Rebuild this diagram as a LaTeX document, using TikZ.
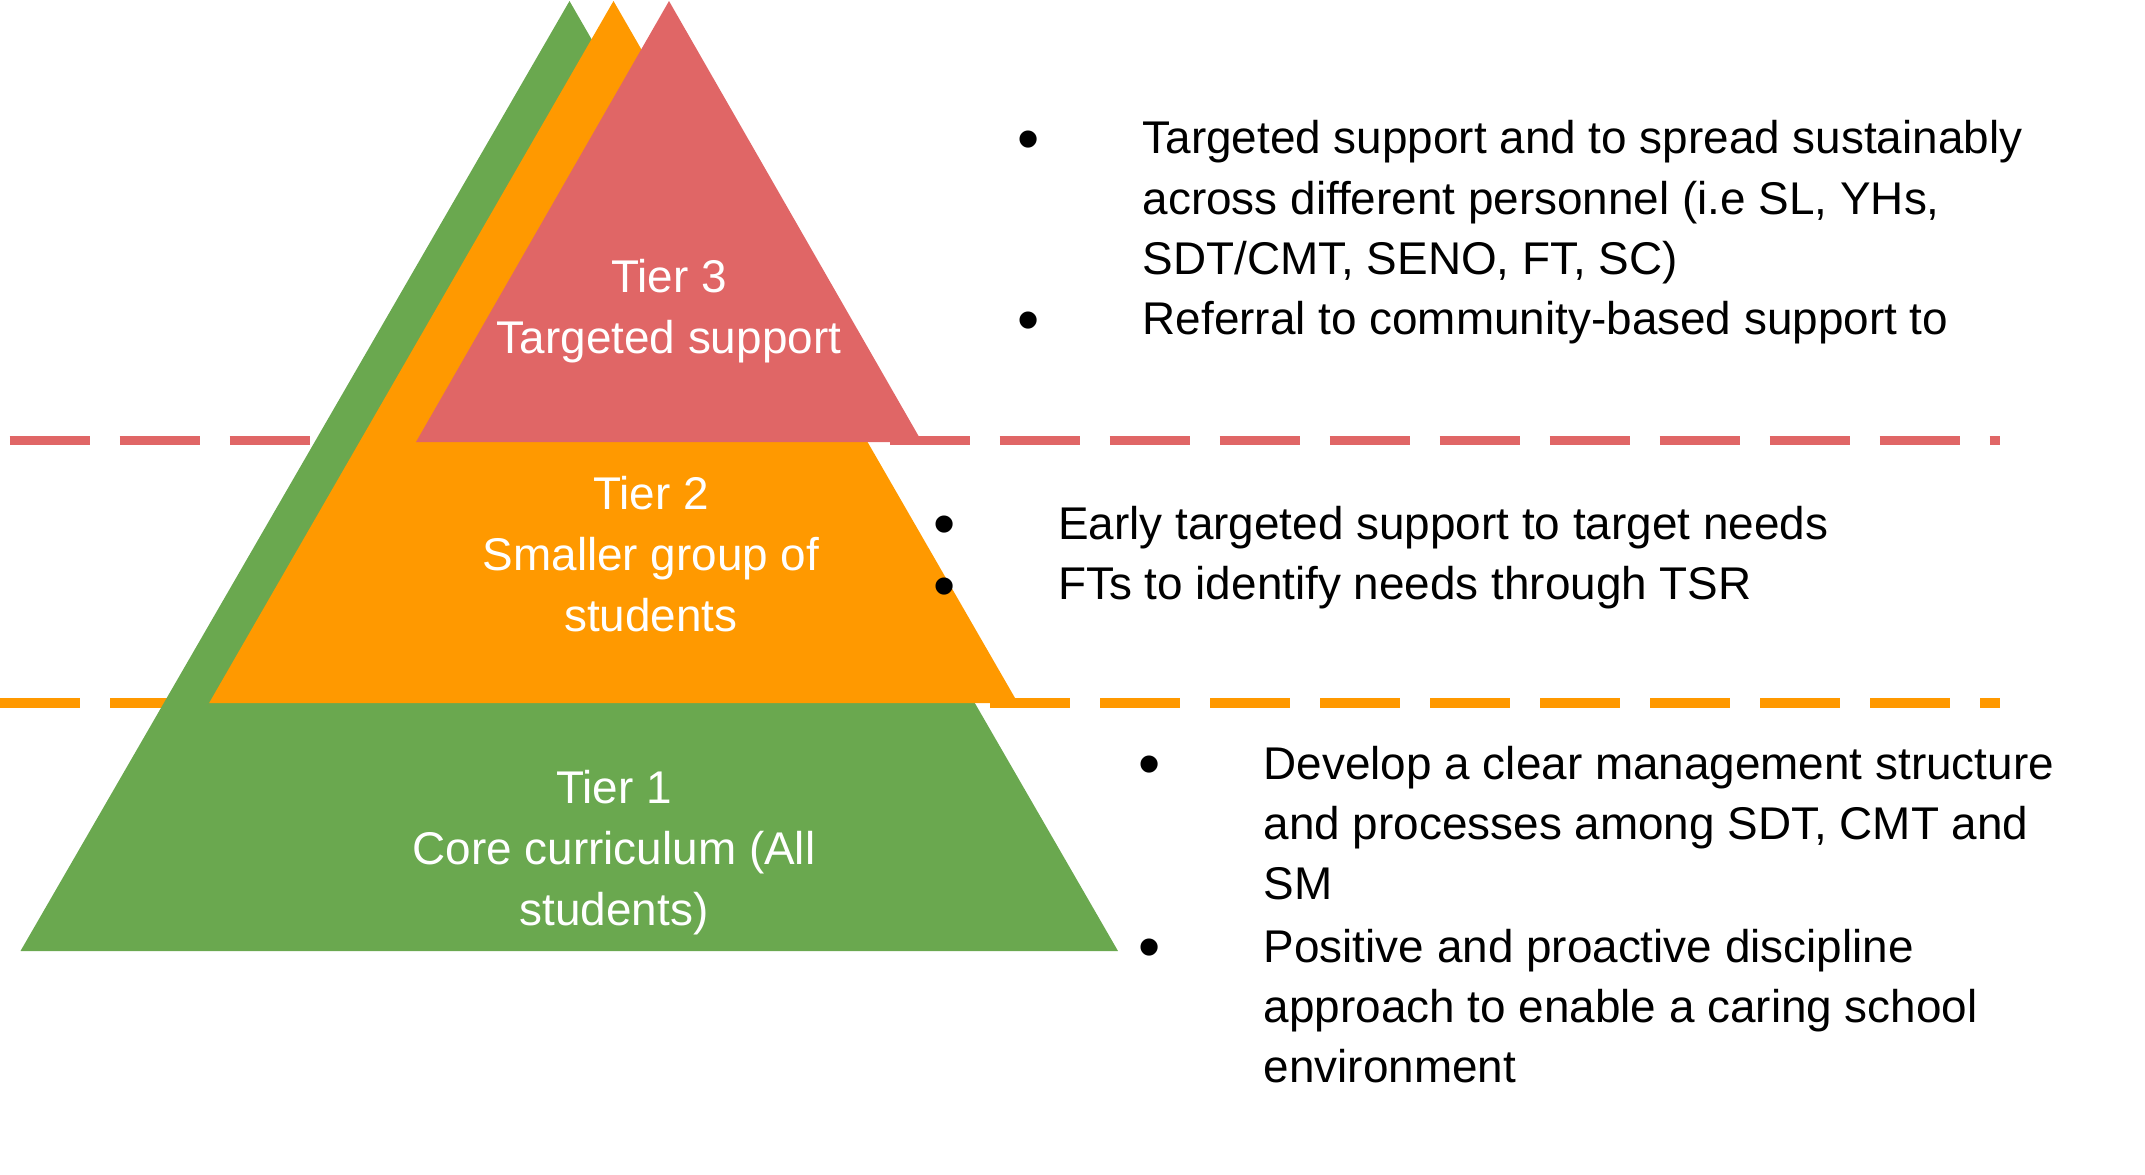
\documentclass[tikz,border=0pt]{standalone}
\usepackage{fontspec}
\setmainfont{Liberation Sans}
\usepackage{tikz}
\usetikzlibrary{positioning}
\definecolor{cGreen}{HTML}{6AA84F}
\definecolor{cOrange}{HTML}{FF9900}
\definecolor{cRed}{HTML}{E06666}
\tikzset{
  %% pyramid labels (white, centred)
  tierlbl/.style={anchor=north, align=center, inner sep=0pt, text=white,
                  font=\fontsize{13.05}{17.3}\selectfont},
  %% bullet lists on the right
  bullet/.style={anchor=center, inner sep=0pt, font=\fontsize{18}{20}\selectfont},
  itemtxt/.style={anchor=north west, align=left, inner sep=0pt,
                  font=\fontsize{13.05}{17.2}\selectfont},
  %% separators
  sepline/.style={line width=0.096cm, dash pattern=on 0.8cm off 0.3cm},
}

\begin{document}
\begin{tikzpicture}
\useasboundingbox (0,0) rectangle (21.45,-11.74);

%% =============================================================
%%  SEPARATORS (behind the pyramid)
%% =============================================================
\coordinate (sepRL) at (0.096,-4.405);
\coordinate (sepRR) at (20.0,-4.405);
\coordinate (sepOL) at (0,-7.03);
\coordinate (sepOR) at (20.0,-7.03);
\draw[sepline, cRed]    (sepRL) -- (sepRR);
\draw[sepline, cOrange] (sepOL) -- (sepOR);

%% =============================================================
%%  PYRAMID
%% =============================================================
\fill[cGreen]  (5.695,-0.01) -- (11.18,-9.51) -- (0.205,-9.51) -- cycle;
\fill[cOrange] (6.135,-0.01) -- (10.179,-7.03) -- (2.091,-7.03) -- cycle;
\fill[cRed]    (6.69,-0.01)  -- (9.22,-4.42)   -- (4.16,-4.42)  -- cycle;

%% --- tier labels ---
\node[tierlbl] (tier3) at (6.69,-2.49) {\strut Tier 3\\Targeted support};
\node[tierlbl] (tier2) at (6.51,-4.664) {\strut Tier 2\\Smaller group of\\students};
\node[tierlbl] (tier1) at (6.14,-7.604) {\strut Tier 1\\Core curriculum (All\\students)};

%% =============================================================
%%  TIER 3 notes
%% =============================================================
\node[bullet] (b3a) at (10.29,-1.455) {•};
\node[itemtxt] (t3a) at (11.42,-1.107)
  {\strut Targeted support and to spread sustainably\\
   across different personnel (i.e SL, YHs,\\
   SDT/CMT, SENO, FT, SC)};
\node[bullet] (b3b) at (10.29,-3.265) {•};
\node[itemtxt] (t3b) at (11.42,-2.917) {\strut Referral to community-based support to};

%% =============================================================
%%  TIER 2 notes
%% =============================================================
\node[bullet] (b2a) at (9.445,-5.305) {•};
\node[itemtxt] (t2a) at (10.575,-4.967) {\strut Early targeted support to target needs};
\node[bullet] (b2b) at (9.445,-5.925) {•};
\node[itemtxt] (t2b) at (10.575,-5.567) {\strut FTs to identify needs through TSR};

%% =============================================================
%%  TIER 1 notes
%% =============================================================
\node[bullet] (b1a) at (11.5,-7.705) {•};
\node[itemtxt] (t1a) at (12.63,-7.36)
  {\strut Develop a clear management structure\\
   and processes among SDT, CMT and\\
   SM};
\node[bullet] (b1b) at (11.5,-9.535) {•};
\node[itemtxt] (t1b) at (12.63,-9.19)
  {\strut Positive and proactive discipline\\
   approach to enable a caring school\\
   environment};

\end{tikzpicture}
\end{document}
